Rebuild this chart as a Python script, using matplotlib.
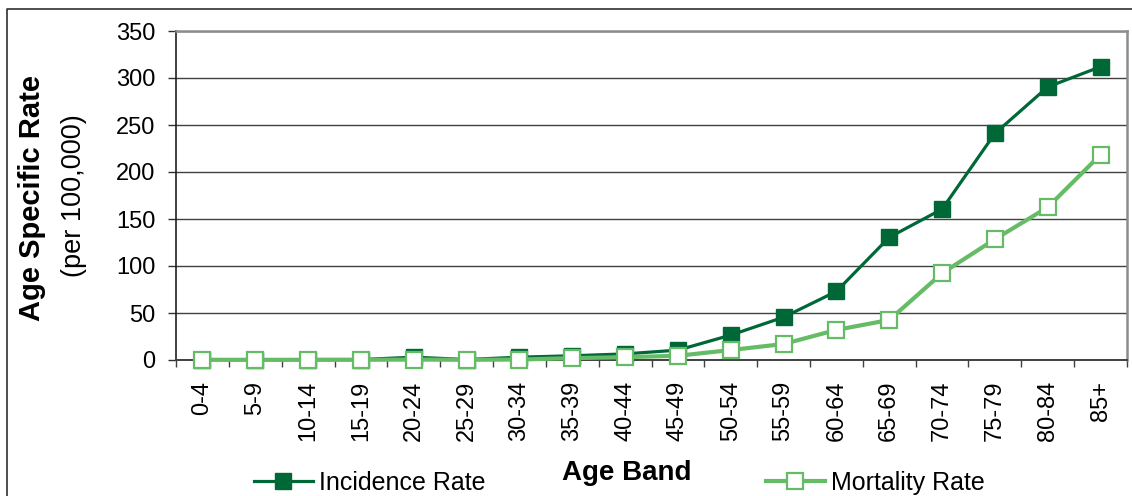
import numpy as np
import matplotlib
matplotlib.use("Agg")
import matplotlib.pyplot as plt
from matplotlib.lines import Line2D

plt.rcParams['font.family'] = ['Liberation Sans', 'DejaVu Sans']

# Age-specific incidence and mortality rates per 100,000
age_bands = ["0-4", "5-9", "10-14", "15-19", "20-24", "25-29", "30-34", "35-39",
             "40-44", "45-49", "50-54", "55-59", "60-64", "65-69", "70-74",
             "75-79", "80-84", "85+"]
incidence_rate = [0.5, 0.3, 0.5, 0.5, 3.0, 0.5, 3.0, 4.5, 6.5, 10.5,
                  26.5, 45.5, 73.0, 130.5, 160.5, 241.0, 290.5, 312.0]
mortality_rate = [0.2, 0.2, 0.2, 0.2, 0.5, 0.2, 0.5, 2.0, 3.0, 4.5,
                  10.6, 17.0, 32.0, 42.6, 92.3, 128.5, 162.5, 218.5]
y_ticks = [0, 50, 100, 150, 200, 250, 300, 350]

DARK_GREEN = "#006837"
LIGHT_GREEN = "#66BB66"

W, H = 1132, 496
fig = plt.figure(figsize=(W / 100, H / 100), dpi=100)
ax = fig.add_axes([176 / W, 1 - 360 / H, (1127 - 176) / W, (360 - 31) / H])

x = np.arange(len(age_bands))
inc_line, = ax.plot(x, incidence_rate, color=DARK_GREEN, lw=2.3, marker="s",
                    ms=11, mfc=DARK_GREEN, mec=DARK_GREEN, zorder=3,
                    clip_on=False, label="Incidence Rate")
mor_line, = ax.plot(x, mortality_rate, color=LIGHT_GREEN, lw=3.0, marker="s",
                    ms=11, mfc="white", mec=LIGHT_GREEN, mew=1.6, zorder=4,
                    clip_on=False, label="Mortality Rate")

ax.set_xlim(-0.5, len(age_bands) - 0.5)
ax.set_ylim(0, 350)
ax.set_yticks(y_ticks)
ax.set_yticklabels([str(v) for v in y_ticks], fontsize=17)
ax.yaxis.grid(True, color="#404040", lw=1.0)
ax.set_axisbelow(True)
ax.tick_params(axis="y", direction="out", length=6, width=1.0, pad=9,
               color="#303030")

# category boundaries carry the tick marks, centres carry the labels
ax.set_xticks(np.arange(len(age_bands) + 1) - 0.5)
ax.set_xticklabels([])
ax.set_xticks(x, minor=True)
ax.set_xticklabels(age_bands, minor=True, rotation=90, fontsize=17)
ax.tick_params(axis="x", which="major", direction="out", length=5, width=1.0,
               color="#404040")
ax.tick_params(axis="x", which="minor", length=0, pad=15)

for side in ("top", "right"):
    ax.spines[side].set_color("#8c8c8c")
    ax.spines[side].set_linewidth(1.8)
ax.spines["left"].set_color("#202020")
ax.spines["left"].set_linewidth(1.2)
ax.spines["bottom"].set_color("#404040")
ax.spines["bottom"].set_linewidth(1.4)

# axis titles
fig.text(32 / W, 1 - 198 / H, "Age Specific Rate", rotation=90, fontsize=21,
         fontweight="bold", ha="center", va="center")
fig.text(74 / W, 1 - 196 / H, "(per 100,000)", rotation=90, fontsize=19.5,
         ha="center", va="center")
fig.text(627 / W, 1 - 473 / H, "Age Band", fontsize=20, fontweight="bold",
         ha="center", va="center")

# legend entries on either side of the x-axis title
for handle, x0 in ((inc_line, 254), (mor_line, 766)):
    fig.legend(handles=[handle], loc="center left",
               bbox_to_anchor=(x0 / W, 1 - 483 / H), frameon=False,
               fontsize=18, handlelength=2.35, handletextpad=0.25,
               borderpad=0, borderaxespad=0)

# outer chart frame
fig.add_artist(Line2D([7 / W, 7 / W, 1], [0, 1 - 9 / H, 1 - 9 / H],
                      transform=fig.transFigure, color="#303030", lw=1.2))

fig.savefig("out.png", dpi=100)
